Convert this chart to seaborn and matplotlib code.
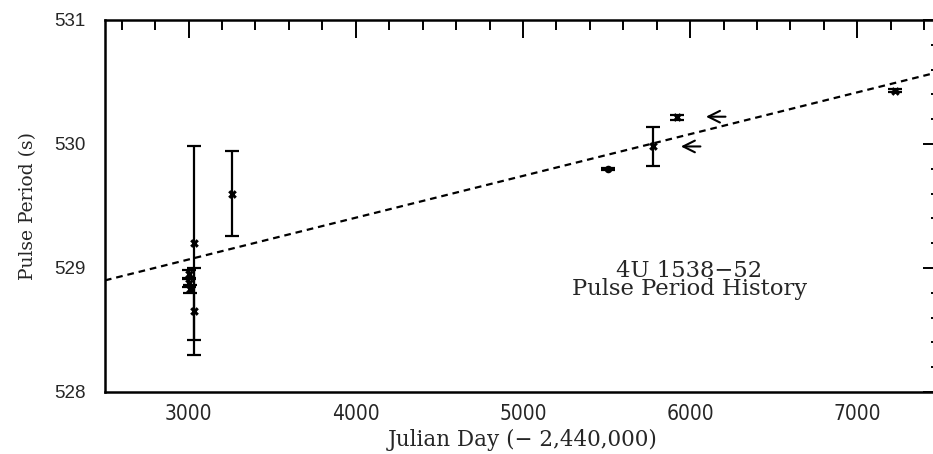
import numpy as np
import pandas as pd
import matplotlib
matplotlib.use("Agg")
import matplotlib.pyplot as plt
import seaborn as sns

# ---- data ----
jd = [3000, 3005, 3010, 3030, 3030, 3260, 5510, 5775, 5920, 7223]
period = [528.95, 528.88, 528.83, 529.20, 528.65, 529.60, 529.80, 529.98, 530.215, 530.43]
period_err = [0.03, 0.03, 0.03, 0.78, 0.35, 0.34, 0.01, 0.16, 0.02, 0.01]
marker_kind = ["x", "x", "x", "x", "x", "x", "o", "x", "x", "x"]

fit_x = [2500, 7500]
fit_y = [528.90, 530.585]

arrow_head_x = [6078, 5928]
arrow_tail_x = [6228, 6078]
arrow_y = [530.22, 529.98]

x_ticks = [3000, 4000, 5000, 6000, 7000]
y_ticks = [528, 529, 530, 531]
title_lines = ["4U 1538\u221252", "Pulse Period History"]

df = pd.DataFrame({"jd": jd, "period": period, "err": period_err, "kind": marker_kind})

sns.set_theme(style="white")
plt.rcParams["font.family"] = ["DejaVu Serif", "DejaVu Sans"]

fig = plt.figure(figsize=(9.33, 4.54), dpi=100)
ax = fig.add_axes([0.1125, 0.1366, 0.896, 0.8194])

# fitted trend line
sns.lineplot(x=fit_x, y=fit_y, ax=ax, color="black", linestyle=(0, (3, 2.2)), linewidth=1.6)

# error bars
ax.errorbar(df["jd"], df["period"], yerr=df["err"], fmt="none", ecolor="black",
            elinewidth=1.6, capsize=5, capthick=1.6, zorder=3)

# markers
sns.scatterplot(data=df[df["kind"] == "x"], x="jd", y="period", ax=ax, marker="x",
                color="black", s=22, linewidth=2.2, zorder=4)
sns.scatterplot(data=df[df["kind"] == "o"], x="jd", y="period", ax=ax, marker="o",
                color="black", s=30, linewidth=0, zorder=4)

# arrows
for hx, tx, yy in zip(arrow_head_x, arrow_tail_x, arrow_y):
    ax.annotate("", xy=(hx, yy), xytext=(tx, yy),
                arrowprops=dict(arrowstyle="->,head_length=0.7,head_width=0.35",
                                color="black", lw=1.5))

ax.text(5994, 528.905, title_lines[0] + "\n" + title_lines[1], ha="center", va="center",
        fontsize=16.3, linespacing=0.78)

ax.set_xlim(2500, 7500)
ax.set_ylim(528, 531)
ax.set_xticks(x_ticks)
ax.set_yticks(y_ticks)
ax.set_xticks(np.arange(2600, 7500, 200), minor=True)
ax.set_yticks(np.arange(528.2, 531, 0.2), minor=True)
ax.set_xticklabels([str(v) for v in x_ticks], family="DejaVu Sans", fontstretch="condensed",
                   fontsize=15)
ax.set_yticklabels([str(v) for v in y_ticks], family="Liberation Sans", fontsize=13.5)
ax.tick_params(which="both", direction="in", top=True, right=True, color="black", width=1.4)
ax.tick_params(which="major", length=13)
ax.tick_params(axis="y", which="major", pad=14)
ax.tick_params(axis="x", which="major", pad=9)
ax.tick_params(which="minor", length=7)
for s in ax.spines.values():
    s.set_color("black")
    s.set_linewidth(1.8)

ax.set_xlabel("Julian Day (\u2212 2,440,000)", fontsize=15.5, labelpad=3)
ax.set_ylabel("Pulse Period (s)", fontsize=13.5, labelpad=12)

fig.savefig("out.png", dpi=100)
